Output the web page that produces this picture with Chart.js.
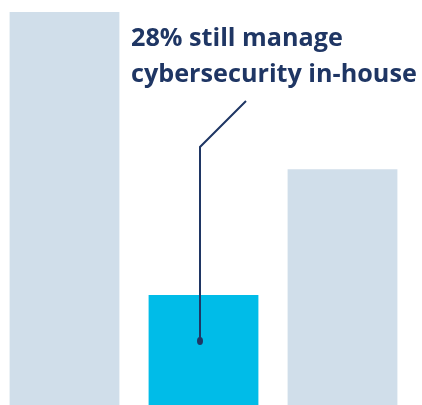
<!DOCTYPE html>
<html><head><meta charset="utf-8">
<script src="https://cdn.jsdelivr.net/npm/chart.js@4"></script>
<style>
html,body{margin:0;padding:0;background:#fff;overflow:hidden;width:422px;height:405px;}
#wrap{position:absolute;left:-5px;top:0;width:427px;height:405px;}
</style></head>
<body><div id="wrap"><canvas id="c"></canvas></div>
<script>
const categories = ["A", "B", "C"];
const values = [100, 28, 60];
const barColors = ["#D0DEEA", "#00BCE8", "#D0DEEA"];
const calloutLines = ["28% still manage", "cybersecurity in-house"];
const calloutIndex = 1;
const calloutDotValue = 16.3;

const callout = {
  id: 'callout',
  afterDatasetsDraw(chart) {
    const ctx = chart.ctx;
    const xs = chart.scales.x, ys = chart.scales.y;
    const px = xs.getPixelForValue(calloutIndex) - 3.5;
    const py = ys.getPixelForValue(calloutDotValue);
    ctx.save();
    ctx.strokeStyle = '#1F3664';
    ctx.fillStyle = '#1F3664';
    ctx.lineWidth = 2;
    ctx.beginPath();
    ctx.moveTo(px, py);
    ctx.lineTo(px, 147);
    ctx.lineTo(px + 46, 101);
    ctx.stroke();
    ctx.beginPath();
    ctx.ellipse(px, py, 3, 4, 0, 0, Math.PI * 2);
    ctx.fill();
    ctx.font = 'bold 100px "Open Sans"';
    const w = ctx.measureText(calloutLines[1]).width;
    const size = 100 * 286 / w;
    ctx.font = 'bold ' + size.toFixed(2) + 'px "Open Sans"';
    ctx.textBaseline = 'alphabetic';
    ctx.fillText(calloutLines[0], 136, 46);
    ctx.fillText(calloutLines[1], 136, 82);
    ctx.restore();
  }
};

new Chart(document.getElementById('c'), {
  type: 'bar',
  data: { labels: categories, datasets: [{ data: values, backgroundColor: barColors, borderWidth: 0, categoryPercentage: 1, barPercentage: 0.79 }] },
  options: {
    responsive: true, maintainAspectRatio: false, animation: false,
    layout: { padding: { top: 12, bottom: 0, left: 0, right: 10 } },
    plugins: { legend: { display: false }, tooltip: { enabled: false } },
    scales: {
      x: { display: false },
      y: { display: false, min: 0, max: 100 }
    }
  },
  plugins: [callout]
});
</script></body></html>
